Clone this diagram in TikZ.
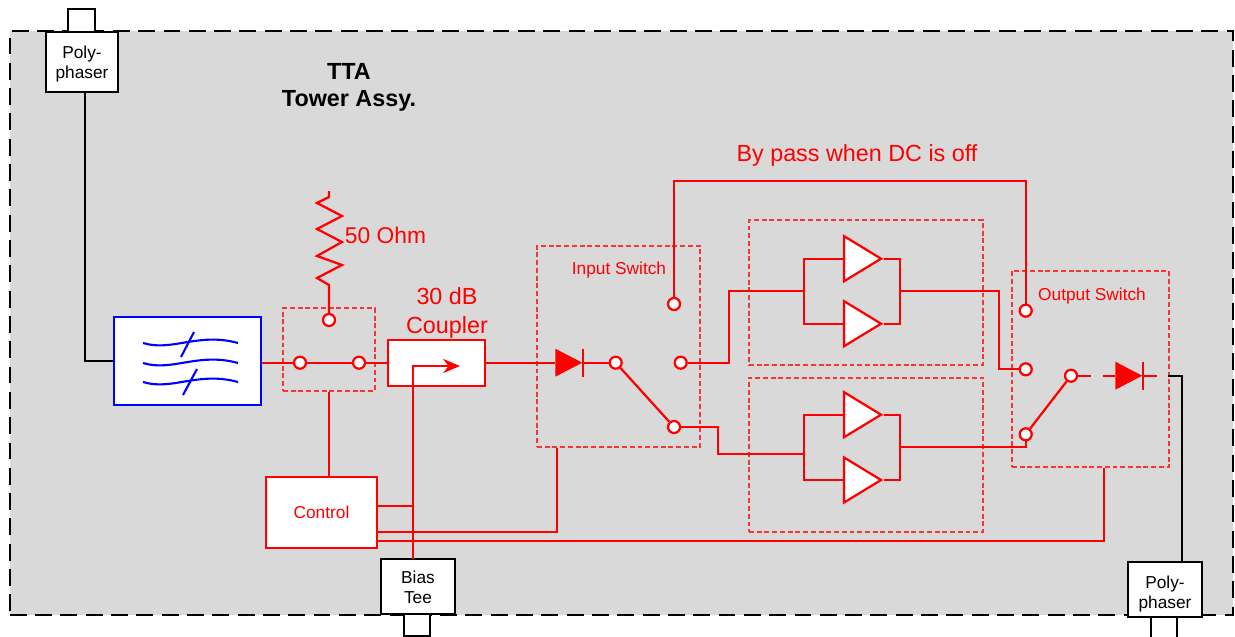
\documentclass[tikz,border=0pt]{standalone}
\usepackage{fontspec}
\setmainfont{Liberation Sans}
\usetikzlibrary{arrows.meta,shapes.geometric}
\definecolor{towergray}{HTML}{D9D9D9}
\tikzset{
    frame/.style={draw=black,fill=towergray,line width=1.5pt,dash pattern=on 12pt off 6pt},
    dashbox/.style={draw=red!75!towergray,line width=0.8pt,dash pattern=on 3.5pt off 2pt,inner sep=0pt},
    blackbox/.style={draw=black,fill=white,line width=1.5pt,align=center,inner sep=0pt,font=\fontsize{12.3}{14.2}\selectfont},
    redbox/.style={draw=red,fill=white,line width=1.6pt,inner sep=0pt,text=red,font=\fontsize{12.3}{14.2}\selectfont},
    bluebox/.style={draw=blue,fill=white,line width=1.6pt,inner sep=0pt},
    pin/.style={circle,draw=red,fill=white,line width=1.6pt,minimum size=0.3cm,inner sep=0pt},
    amp/.style={isosceles triangle,isosceles triangle stretches,draw=red,fill=white,line width=1.6pt,
        minimum height=0.925cm,minimum width=1.125cm,inner sep=0pt,anchor=apex},
    diode/.style={isosceles triangle,isosceles triangle stretches,fill=red,
        minimum height=0.675cm,minimum width=0.7cm,inner sep=0pt,anchor=apex},
    redline/.style={draw=red,line width=1.6pt},
    blackline/.style={draw=black,line width=1.5pt},
    blueline/.style={draw=blue,line width=1.5pt},
    redlabel/.style={text=red,font=\fontsize{16.6}{20}\selectfont,align=center},
    smalllabel/.style={text=red,font=\fontsize{12.3}{14.2}\selectfont},
    titlelabel/.style={font=\bfseries\fontsize{16.6}{19.2}\selectfont,align=center}
}
\begin{document}
\begin{tikzpicture}[x=0.025cm,y=-0.025cm]
    \clip (0,0) rectangle (1235,637);

    % Tower enclosure
    \node[frame,minimum width=30.575cm,minimum height=14.6cm] (tower) at (621.5,323) {};
    \node[titlelabel] (title) at (349,87.5) {TTA\\Tower Assy.};

    % Dashed groups
    \node[dashbox,minimum width=2.3cm,minimum height=2.075cm] (loadswitch) at (329,349.5) {};
    \node[dashbox,minimum width=4.075cm,minimum height=5.025cm] (inswitch) at (618.5,346.5) {};
    \node[dashbox,minimum width=3.925cm,minimum height=4.9cm] (outswitch) at (1090.5,369) {};
    \node[dashbox,minimum width=5.85cm,minimum height=3.625cm] (groupA) at (866,292.5) {};
    \node[dashbox,minimum width=5.85cm,minimum height=3.85cm] (groupB) at (866,455) {};

    % Connectors at the enclosure edge
    \node[blackbox,minimum width=0.675cm,minimum height=0.6cm] (topport) at (81.5,21) {};
    \node[blackbox,minimum width=0.65cm,minimum height=0.55cm] (biasport) at (417,625) {};
    \node[blackbox,minimum width=0.65cm,minimum height=0.75cm] (lowport) at (1164,632) {};

    % Boxes
    \node[blackbox,text height=26pt,minimum width=1.8cm,minimum height=1.5cm] (polytop) at (82,62) {Poly-\\phaser};
    \node[blackbox,text height=24.8pt,minimum width=1.85cm,minimum height=1.375cm] (biastee) at (418,586.5) {Bias\\Tee};
    \node[blackbox,text height=29pt,minimum width=1.85cm,minimum height=1.375cm] (polylow) at (1165,589.5) {Poly-\\phaser};
    \node[bluebox,minimum width=3.675cm,minimum height=2.2cm] (filter) at (187.5,361) {};
    \node[redbox,minimum width=2.425cm,minimum height=1.15cm] (coupler) at (436.5,363) {};
    \node[redbox,minimum width=2.775cm,minimum height=1.775cm] (control) at (321.5,512.5) {Control};

    % Switch pins
    \node[pin] (swA) at (300,362.7) {};
    \node[pin] (swB) at (359,362.7) {};
    \node[pin] (swload) at (329,320) {};
    \node[pin] (swin) at (615.7,362.7) {};
    \node[pin] (swbypass) at (674,304) {};
    \node[pin] (swupper) at (680.7,362.7) {};
    \node[pin] (swlower) at (674,427) {};
    \node[pin] (outbypass) at (1025.7,310.7) {};
    \node[pin] (outupper) at (1025.7,369.3) {};
    \node[pin] (outlower) at (1025.7,434.3) {};
    \node[pin] (outarm) at (1071,375.7) {};

    % Diodes
    \node[diode] (indiode) at (583,362.7) {};
    \node[diode] (outdiode) at (1143,375.7) {};
    \draw[redline] (indiode.apex) ++(0,-14) -- ++(0,28);
    \draw[redline] (outdiode.apex) ++(0,-14) -- ++(0,28);

    % Amplifiers
    \node[amp] (ampA) at (884,258.7) {};
    \node[amp] (ampB) at (884,323.7) {};
    \node[amp] (ampC) at (884,414.7) {};
    \node[amp] (ampD) at (884,480) {};

    % Connection points
    \coordinate (polyport) at (85,92);
    \coordinate (lowpoint) at (1182,562);
    \coordinate (outstub) at (1168,375.7);
    \coordinate (gapA) at (1091,375.7);
    \coordinate (gapB) at (1103,375.7);
    \coordinate (diodeend) at (1157,375.7);
    \coordinate (biaspoint) at (413,559);
    \coordinate (couplertip) at (460,366);
    \coordinate (ctlA) at (413,506);
    \coordinate (ctlB) at (557,532);
    \coordinate (ctlC) at (1104,541);
    \coordinate (bypasstop) at (850,181);
    \coordinate (groupAin) at (804,290.7);
    \coordinate (groupAout) at (900,291);
    \coordinate (groupBin) at (804,453.7);
    \coordinate (groupBout) at (900,447.3);

    % Black wiring
    \draw[blackline] (polyport) |- (filter.west);
    \draw[blackline] (outstub) -| (lowpoint);

    % Filter symbol
    \draw[blueline] (143,343) .. controls (172,352) and (198,332) .. (238,343);
    \draw[blueline] (143,363) .. controls (172,372) and (198,352) .. (238,363);
    \draw[blueline] (143,382) .. controls (172,391) and (198,371) .. (238,382);
    \draw[blueline] (181,357) -- (194,332);
    \draw[blueline] (183,395) -- (197,369);

    % 50 Ohm load
    \draw[redline] (329,191) -- (329,197) -- (317,203) -- (342,216) -- (317,229) -- (342,242)
        -- (317,256) -- (342,265) -- (317,278) -- (329,285) -- (swload);
    \node[redlabel,anchor=west,font=\fontsize{16.2}{20}\selectfont] (loadlabel) at (340,235) {50 Ohm};

    % Main path
    \draw[redline] (swA -| filter.east) -- (swA);
    \draw[redline] (swA) -- (swB);
    \draw[redline] (swB) -- (swB -| coupler.west);
    \draw[redline] (indiode.lower side -| coupler.east) -- (indiode.lower side);
    \draw[redline] (indiode.apex) -- (swin);
    \draw[redline] (swin) -- (swlower);
    \draw[redline] (outlower) -- (outarm);
    \draw[redline] (outarm) -- (gapA);
    \draw[redline] (gapB) -- (outdiode.lower side);
    \draw[redline] (outdiode.apex) -- (diodeend);
    \draw[redline,-{Stealth[length=12pt,width=10pt]}] (biaspoint) |- (couplertip);

    % Amplifier wiring
    \draw[redline] (swupper) -- ++(48,0) |- (groupAin);
    \draw[redline] (ampA.lower side) -| (groupAin) |- (ampB.lower side);
    \draw[redline] (ampA.apex) -| (groupAout) |- (ampB.apex);
    \draw[redline] (groupAout) -- ++(99,0) |- (outupper);
    \draw[redline] (swlower) -- ++(44,0) |- (groupBin);
    \draw[redline] (ampC.lower side) -| (groupBin) |- (ampD.lower side);
    \draw[redline] (ampC.apex) -| (groupBout) |- (ampD.apex);
    \draw[redline] (groupBout) -| (outlower);

    % By pass
    \draw[redline] (swbypass) |- (bypasstop) -| (outbypass);

    % Control lines
    \draw[redline] (loadswitch.south) -- (loadswitch.south |- control.north);
    \draw[redline] (control.east |- ctlA) -- (ctlA);
    \draw[redline] (control.east |- ctlB) -- (ctlB) -- (ctlB |- inswitch.south);
    \draw[redline] (control.east |- ctlC) -- (ctlC) -- (ctlC |- outswitch.south);

    % Labels
    \node[redlabel] (bypasslabel) at (857,155) {By pass when DC is off};
    \node[redlabel] (couplerlabel) at (447,313) {30 dB\\Coupler};
    \node[smalllabel] (inlabel) at (619,270) {Input Switch};
    \node[smalllabel] (outlabel) at (1092,296) {Output Switch};
\end{tikzpicture}
\end{document}
